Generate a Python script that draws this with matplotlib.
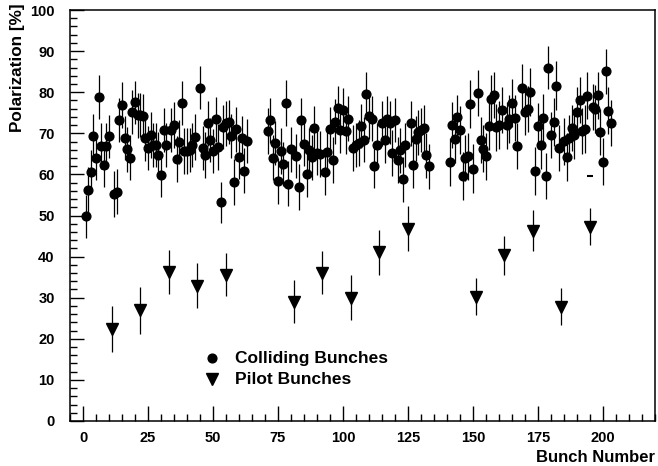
import matplotlib
matplotlib.use('Agg')
import matplotlib.pyplot as plt
from matplotlib.ticker import MultipleLocator

plt.rcParams['font.family'] = ['Liberation Sans', 'DejaVu Sans']
plt.rcParams['font.weight'] = 'bold'

# Colliding bunches: bunch number, polarization [%], error
coll_bunch = [1, 2, 3, 4, 5, 6, 7, 8, 9, 10, 12, 13, 14, 15, 16, 17, 18, 19, 20, 21,
              22, 23, 24, 25, 26, 27, 28, 29, 30, 31, 32, 34, 35, 36, 37, 38, 39, 40, 41, 42,
              43, 45, 46, 47, 48, 49, 50, 51, 52, 53, 54, 55, 56, 57, 58, 59, 60, 61, 62, 63,
              71, 72, 73, 74, 75, 76, 77, 78, 79, 80, 82, 83, 84, 85, 86, 87, 88, 89, 90, 91,
              93, 94, 95, 96, 97, 98, 99, 100, 101, 102, 104, 105, 106, 107, 108, 109, 110, 111, 112, 113,
              115, 116, 117, 118, 119, 120, 121, 122, 123, 124, 126, 127, 128, 129, 130, 131, 132, 133,
              141, 142, 143, 144, 145, 146, 147, 148, 149, 150, 152, 153, 154, 155, 156, 157, 158, 159, 160, 161,
              163, 164, 165, 166, 167, 169, 170, 171, 172, 174, 175, 176, 177, 178, 179, 180, 181, 182, 183,
              185, 186, 187, 188, 189, 190, 191, 192, 193, 194, 196, 197, 198, 199, 200, 201, 202, 203]
coll_pol = [49.8, 56.2, 60.7, 69.3, 64.0, 78.9, 66.9, 62.3, 66.9, 69.3, 55.3, 55.8, 73.3, 76.8, 68.9, 66.1, 64.1, 75.2, 77.5, 74.4,
            74.4, 74.2, 68.9, 66.4, 69.6, 67.2, 67.2, 64.8, 59.9, 70.8, 67.2, 70.8, 72.0, 63.8, 67.9, 77.3, 65.7, 65.7, 65.9, 67.1,
            69.1, 81.1, 66.4, 64.8, 72.4, 68.3, 65.7, 73.4, 66.6, 53.2, 71.5, 72.4, 72.8, 69.3, 58.1, 71.0, 64.2, 68.9, 60.9, 68.1,
            70.5, 73.2, 64.1, 67.7, 58.3, 65.7, 62.6, 77.3, 57.7, 66.1, 64.5, 56.9, 73.2, 67.5, 60.0, 65.9, 64.2, 71.3, 65.3, 64.9,
            60.6, 65.5, 71.1, 63.6, 72.8, 76.2, 70.8, 75.7, 70.6, 73.6, 66.4, 67.1, 67.6, 71.8, 68.4, 79.5, 74.2, 73.6, 62.0, 67.2,
            72.4, 68.4, 73.6, 72.6, 65.2, 73.3, 63.4, 65.9, 58.8, 67.1, 72.4, 62.3, 68.7, 70.2, 70.8, 71.3, 64.6, 62.0,
            63.0, 72.1, 68.5, 73.9, 70.8, 59.6, 64.0, 64.4, 77.1, 61.4, 79.8, 68.4, 66.3, 64.4, 71.8, 78.3, 79.3, 71.5, 72.1, 75.6,
            72.0, 73.4, 77.4, 73.8, 66.9, 81.1, 75.1, 75.9, 80.1, 60.9, 71.8, 67.1, 73.8, 59.7, 86.0, 69.6, 72.8, 81.6, 66.4,
            68.1, 64.2, 68.9, 71.3, 69.6, 75.3, 78.1, 70.5, 71.1, 79.1, 76.4, 75.9, 79.3, 70.3, 63.1, 85.1, 75.5, 72.4]
coll_err = [5.2, 5.5, 5.3, 5.5, 5.4, 5.3, 5.6, 5.4, 5.5, 5.2, 5.6, 5.5, 5.4, 5.6, 5.3, 5.5, 5.4, 5.3, 5.2, 5.5,
            5.4, 5.3, 5.6, 5.4, 5.5, 5.3, 5.4, 5.6, 5.5, 5.4, 5.3, 5.4, 5.5, 5.6, 5.3, 5.4, 5.5, 5.6, 5.4, 5.3,
            5.5, 5.3, 5.4, 5.6, 5.5, 5.4, 5.3, 5.5, 5.6, 5.0, 5.4, 5.5, 5.3, 5.4, 5.6, 5.5, 5.4, 5.3, 5.5, 5.4,
            5.6, 5.5, 5.4, 5.3, 5.6, 5.5, 5.4, 5.6, 5.5, 5.4, 5.3, 5.6, 5.4, 5.5, 5.6, 5.4, 5.5, 5.3, 5.4, 5.6,
            5.5, 5.4, 5.3, 5.6, 5.5, 5.4, 5.5, 5.3, 5.6, 5.4, 5.5, 5.4, 5.6, 5.3, 5.5, 5.4, 5.6, 5.5, 5.4, 5.3,
            5.5, 5.6, 5.4, 5.3, 5.5, 5.4, 5.6, 5.5, 5.4, 5.3, 5.5, 5.6, 5.4, 5.5, 5.3, 5.6, 5.4, 5.5,
            5.8, 5.6, 5.7, 5.5, 5.8, 5.9, 5.6, 5.7, 5.8, 5.9, 5.7, 5.6, 5.8, 5.7, 5.9, 5.8, 5.6, 5.7, 5.8, 5.6,
            5.7, 5.8, 5.9, 5.6, 5.7, 5.8, 5.6, 5.7, 5.9, 5.8, 5.6, 5.7, 5.8, 5.6, 5.3, 5.7, 5.8, 5.9, 5.6,
            5.7, 5.8, 5.6, 5.7, 5.8, 5.9, 5.7, 5.6, 5.8, 5.7, 5.6, 5.8, 5.7, 5.6, 5.8, 5.5, 5.7, 5.6]

# stray short mark near bunch 195
odd_bunch = [195]
odd_pol = [59.7]

# Pilot bunches
pilot_bunch = [11, 22, 33, 44, 55, 81, 92, 103, 114, 125, 151, 162, 173, 184, 195]
pilot_pol = [22.4, 26.9, 36.3, 32.9, 35.6, 29.0, 36.1, 30.0, 41.0, 46.8, 30.2, 40.3, 46.3, 27.8, 47.3]
pilot_err = [5.5, 5.7, 5.3, 5.5, 5.2, 5.2, 5.3, 5.5, 5.5, 5.5, 4.5, 4.8, 5.0, 4.5, 4.5]

fig = plt.figure(figsize=(6.58, 4.66), dpi=100)
ax = fig.add_axes([70 / 658, 45 / 466, 585 / 658, 411 / 466])

ax.errorbar(coll_bunch, coll_pol, yerr=coll_err, fmt='o', color='black',
            ms=6.3, elinewidth=0.9, capsize=0)
ax.plot(odd_bunch, odd_pol, marker='_', color='black', ms=4, mew=1.5, ls='none')
ax.errorbar(pilot_bunch, pilot_pol, yerr=pilot_err, fmt='v', color='black',
            ms=8.5, elinewidth=0.9, capsize=0)

# legend drawn by hand (HBOOK style)
ax.plot([49.8], [15.3], 'o', color='black', ms=6.3)
ax.plot([49.8], [10.2], 'v', color='black', ms=8)
ax.text(58.3, 15.3, 'Colliding Bunches', fontsize=12.5, fontweight='bold', va='center')
ax.text(58.3, 10.2, 'Pilot Bunches', fontsize=12.5, fontweight='bold', va='center')

ax.set_xlim(-5, 220)
ax.set_ylim(0, 100)
ax.xaxis.set_major_locator(MultipleLocator(25))
ax.xaxis.set_minor_locator(MultipleLocator(5))
ax.yaxis.set_major_locator(MultipleLocator(10))
ax.yaxis.set_minor_locator(MultipleLocator(2))
ax.set_xticks([0, 25, 50, 75, 100, 125, 150, 175, 200])
ax.tick_params(which='both', direction='in', top=False, right=False, width=1.0)
ax.tick_params(which='major', axis='x', length=11, pad=7, labelsize=10.5)
ax.tick_params(which='major', axis='y', length=10, pad=11, labelsize=10.5)
ax.tick_params(which='minor', length=5)
for lab in ax.get_xticklabels() + ax.get_yticklabels():
    lab.set_fontweight('bold')
for sp in ax.spines.values():
    sp.set_linewidth(1.1)

fig.text(655 / 658, 1 - 457 / 466, 'Bunch Number', ha='right', va='center',
         fontsize=12, fontweight='bold')
fig.text(18 / 658, 1 - 3 / 466, 'Polarization [%]', ha='center', va='top',
         rotation=90, fontsize=12.3, fontweight='bold')

fig.savefig('out.png', dpi=100)
